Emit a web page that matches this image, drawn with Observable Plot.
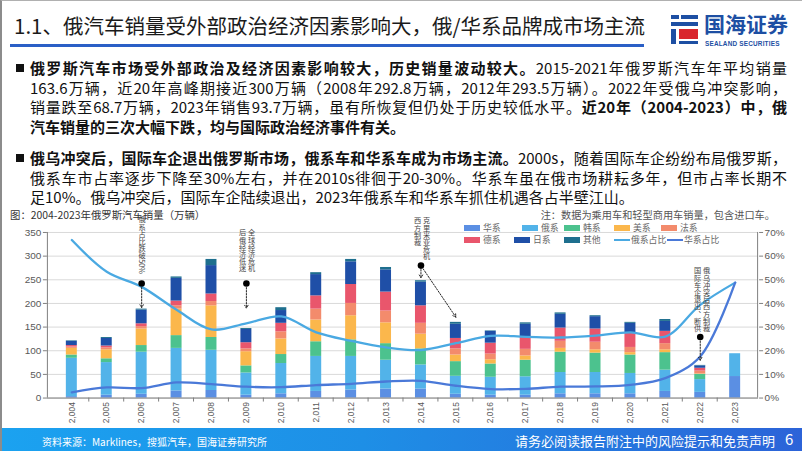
<!DOCTYPE html>
<html><head><meta charset="utf-8">
<script src="https://cdn.jsdelivr.net/npm/d3@7"></script>
<script src="https://cdn.jsdelivr.net/npm/@observablehq/plot@0.6"></script>
<style>
body{margin:0;background:#fff;}
#slide{position:relative;width:802px;height:451px;overflow:hidden;background:#fff;font-family:"Noto Sans CJK SC","Noto Sans",sans-serif;color:#111;box-sizing:border-box;border-left:2px solid #8c8c8c;border-top:1px solid #b0b0b0;}
.abs{position:absolute;}
#title{left:12px;top:8px;font-size:20.5px;line-height:32px;color:#1a1a1a;white-space:nowrap;}
#uline{left:8px;top:43px;width:634px;height:3px;background:#2a5fc6;}
.para{position:absolute;left:28px;width:757px;font-size:15px;line-height:19.7px;}
.ln{white-space:nowrap;}
.j{text-align:justify;text-align-last:justify;white-space:normal;}
.bullet{position:absolute;left:14px;width:8px;height:8px;background:#111;}
#cap{left:8px;top:206px;font-size:10.4px;color:#333;white-space:nowrap;}
#note{right:27px;top:206px;font-size:10.2px;color:#555;white-space:nowrap;}
#chart{left:0;top:221px;}
.lg{position:absolute;font-size:8.8px;color:#666;white-space:nowrap;line-height:11px;}
.sw{position:absolute;width:16px;height:6px;}
.lsw{position:absolute;width:16px;height:2px;}
.anno{position:absolute;writing-mode:vertical-rl;font-size:7.2px;line-height:9px;color:#444;white-space:nowrap;}
#footer{left:0;top:427px;width:802px;height:24px;background:linear-gradient(to right,#1ba2f0 0%,#1e8fe6 45%,#2c63d8 100%);}
#src{left:40px;top:433px;font-size:10px;color:#fff;white-space:nowrap;}
#disc{left:513px;top:430px;font-size:13px;color:#fff;white-space:nowrap;}
#pg{left:783px;top:429px;font-size:15px;color:#fff;line-height:18px;}
#logoTxt{left:702px;top:11px;font-size:21px;font-weight:700;color:#1d4fa3;white-space:nowrap;line-height:22px;}
#logoSub{left:703px;top:39px;font-size:6.4px;line-height:7px;font-weight:700;color:#1d4fa3;white-space:nowrap;font-family:"Liberation Sans",Arial,sans-serif;letter-spacing:0.2px;}
</style></head><body>
<div id="slide">
  <div id="title" class="abs">1.1、俄汽车销量受外部政治经济因素影响大，俄/华系品牌成市场主流</div>
  <div id="uline" class="abs"></div>
  <!-- logo -->
  <div class="abs" style="left:669px;top:14px;width:8px;height:4px;background:#1d4fa3"></div>
  <div class="abs" style="left:679px;top:14px;width:17px;height:4px;background:#1d4fa3"></div>
  <div class="abs" style="left:669px;top:21px;width:27px;height:4px;background:#1d4fa3"></div>
  <div class="abs" style="left:669px;top:28px;width:5px;height:15px;background:#1d4fa3"></div>
  <div class="abs" style="left:677px;top:28px;width:19px;height:10px;background:#d9262e"></div>
  <div class="abs" style="left:677px;top:40px;width:19px;height:3px;background:#1d4fa3"></div>
  <div id="logoTxt" class="abs">国海证券</div>
  <div id="logoSub" class="abs">SEALAND SECURITIES</div>

  <div class="bullet" style="top:63px"></div>
  <div class="para" style="top:57px">
    <div class="ln j"><b>俄罗斯汽车市场受外部政治及经济因素影响较大，历史销量波动较大。</b>2015-2021年俄罗斯汽车年平均销量</div>
    <div class="ln j">163.6万辆，近20年高峰期接近300万辆（2008年292.8万辆，2012年293.5万辆）。2022年受俄乌冲突影响，</div>
    <div class="ln j">销量跌至68.7万辆，2023年销售93.7万辆，虽有所恢复但仍处于历史较低水平。<b>近20年（2004-2023）中，俄</b></div>
    <div class="ln"><b>汽车销量的三次大幅下跌，均与国际政治经济事件有关。</b></div>
  </div>
  <div class="bullet" style="top:153px"></div>
  <div class="para" style="top:147px">
    <div class="ln j"><b>俄乌冲突后，国际车企退出俄罗斯市场，俄系车和华系车成为市场主流。</b>2000s，随着国际车企纷纷布局俄罗斯，</div>
    <div class="ln j">俄系车市占率逐步下降至30%左右，并在2010s徘徊于20-30%。华系车虽在俄市场耕耘多年，但市占率长期不</div>
    <div class="ln">足10%。俄乌冲突后，国际车企陆续退出，2023年俄系车和华系车抓住机遇各占半壁江山。</div>
  </div>

  <div id="cap" class="abs">图：2004-2023年俄罗斯汽车销量（万辆）</div>
  <div id="note" class="abs">注：数据为乘用车和轻型商用车销量，包含进口车。</div>

  <div id="chart" class="abs"></div>
  <div id="legend"></div>
  <div id="annos"></div>

  <div id="footer" class="abs"></div>
  <div id="src" class="abs">资料来源：Marklines，搜狐汽车，国海证券研究所</div>
  <div id="disc" class="abs">请务必阅读报告附注中的风险提示和免责声明</div>
  <div id="pg" class="abs">6</div>
</div>
<script>
// ---------- data ----------
const years = [2004,2005,2006,2007,2008,2009,2010,2011,2012,2013,2014,2015,2016,2017,2018,2019,2020,2021,2022,2023];
const seriesNames = ["华系","俄系","韩系","美系","法系","德系","日系","其他"];
const seriesColors = ["#5b8fe3","#52b3e9","#4cc28e","#fbb74c","#f38b6c","#e9566c","#1f4fa7","#1e6f8e"];
const huaxi = [3,6,8,15,16,6,9,14,17,19,19,8,6,6,9,9,9,14,12,45.5];
const eluoxi = [81,69,89,90,85,47,64,74,71,61,51,38,38,39,45,45,43,45,27,48.2];
const hanxi = [7,8,14,27,27,15,19,31,35,35,34,31,28,35,43,41,39,37,11,0];
const meixi = [14,19,35,56,67,30,33,46,51,44,31,14,9,9,8,7,5,6,1,0];
const faxi = [3,4,5,7,9,6,15,23,26,25,23,13,12,14,15,16,11,13,6,0];
const dexi = [3,4,6,10,16,13,18,28,40,40,37,22,23,26,28,28,31,26,6,0];
const rixi = [9,16,29,48,60,28,27,45,48,47,50,30,25,27,29,26,20,21,5,0];
const qita = [1,2,2,3,13,2,6,4,5,5,3,4,1,3,3,2,2,4,1,0];
// shares (%)
const ruShare = [66.8,53.4,47.0,37.3,29.0,31.6,34.5,27.8,24.2,21.4,20.3,23.2,26.3,25.9,25.6,26.4,27.8,26.0,39.4,48.8];
const cnShare = [2.4,4.5,4.2,6.6,5.9,4.8,4.6,5.5,6.0,7.0,7.3,5.2,3.8,3.9,4.8,4.9,5.6,8.4,17.6,48.8];
const lineNames = ["俄系占比","华系占比"];
const lineColors = ["#4aa9e2","#4a79d8"];
const yTicks = [0,50,100,150,200,250,300,350];
const pctPerUnit = 70/350;
// annotations (levels in 万辆 units of left axis)
const annoDots = [{year:2006,level:242},{year:2009,level:242},{year:2014,level:280},{year:2022,level:129}];
const annoArrows = [
  {from:2006,y1:242,to:2006,y2:191},
  {from:2009,y1:242,to:2009,y2:190},
  {from:2014,y1:280,to:2014,y2:254},
  {from:2014,y1:280,to:2015,y2:171},
  {from:2022,y1:129,to:2022,y2:80}
];
const annoTexts = [
  {year:2006,top:384,cols:["俄系占比跌破50%"]},
  {year:2009,top:357,cols:["全球经济危机","后俄经济低迷"]},
  {year:2014,top:382,cols:["克里米亚危机","西方制裁"]},
  {year:2022,top:276,cols:["俄乌冲突后西方制裁","国际车企退出、断供"]}
];

// ---------- build ----------
const seriesValues = [huaxi,eluoxi,hanxi,meixi,faxi,dexi,rixi,qita];
const rows = seriesNames.flatMap((s,i)=>years.map((y,j)=>({year:y,series:s,value:seriesValues[i][j]})));

const W=802,H=205,ML=45,MR=44,MT=10,MB=29;
const plot = Plot.plot({
  width:W,height:H,marginLeft:ML,marginRight:MR,marginTop:MT,marginBottom:MB,
  style:{fontFamily:"'Liberation Sans',Arial,sans-serif",fontSize:"10px",color:"#595959",background:"transparent",overflow:"visible"},
  x:{type:"band",domain:years,paddingInner:0.69,paddingOuter:0.345,label:null},
  y:{domain:[0,350],label:null},
  color:{domain:seriesNames,range:seriesColors},
  marks:[
    Plot.gridY(yTicks,{stroke:"#d9d9d9",strokeOpacity:1}),
    Plot.barY(rows,{x:"year",y:"value",fill:"series"}),
    Plot.line(years,{x:d=>d,y:(d,i)=>ruShare[i]/pctPerUnit,stroke:lineColors[0],strokeWidth:2.3,curve:"catmull-rom"}),
    Plot.line(years,{x:d=>d,y:(d,i)=>cnShare[i]/pctPerUnit,stroke:lineColors[1],strokeWidth:2.3,curve:"catmull-rom"}),
    Plot.axisY({anchor:"left",ticks:yTicks,tickSize:4,tickPadding:2,label:null,fill:"#595959",stroke:"#7f7f7f"}),
    Plot.axisY({anchor:"right",ticks:yTicks,tickSize:4,tickPadding:2,label:null,tickFormat:d=>Math.round(d*pctPerUnit)+"%",fill:"#595959",stroke:"#7f7f7f"}),
    Plot.axisX({tickSize:0,tickRotate:-90,tickPadding:4,fontSize:8.5,label:null,fill:"#595959"}),
    Plot.arrow(annoArrows,{x1:"from",y1:"y1",x2:"to",y2:"y2",stroke:"#222",strokeWidth:1,strokeDasharray:"1.5,1.5",headLength:5,insetStart:4,bend:0}),
    Plot.dot(annoDots,{x:"year",y:"level",r:3.3,fill:"#000"})
  ]
});
document.getElementById("chart").appendChild(plot);

const xs = plot.scale("x"), ys = plot.scale("y");
const svg = d3.select(plot);
const y0 = ys.apply(0), yTop = ys.apply(350);
const xL = ML, xR = W-MR;
const g = svg.append("g").attr("stroke","#7f7f7f").attr("stroke-width",1);
g.append("line").attr("x1",xL+0.5).attr("x2",xL+0.5).attr("y1",yTop).attr("y2",y0);
g.append("line").attr("x1",xR-0.5).attr("x2",xR-0.5).attr("y1",yTop).attr("y2",y0);
g.append("line").attr("x1",xL).attr("x2",xR).attr("y1",y0+0.5).attr("y2",y0+0.5);
const step = xs.step;
years.forEach((yr,i)=>{
  const c = xs.apply(yr)+xs.bandwidth/2;
  if(i>0) g.append("line").attr("x1",c-step/2).attr("x2",c-step/2).attr("y1",y0).attr("y2",y0+4);
});

// legend (HTML)
const chartTop = 221;
const lgItems = [
  {t:"华系",x:462,y:0},{t:"俄系",x:520,y:0},{t:"韩系",x:562,y:0},{t:"美系",x:612,y:0},{t:"法系",x:659,y:0},
  {t:"德系",x:462,y:1},{t:"日系",x:512,y:1},{t:"其他",x:562,y:1}
];
const legend = document.getElementById("legend");
let html = "";
const rowY = [221,233];
lgItems.forEach(it=>{
  const col = seriesColors[seriesNames.indexOf(it.t)];
  html += `<div class="sw" style="left:${it.x}px;top:${rowY[it.y]+2.5}px;background:${col}"></div>`;
  html += `<div class="lg" style="left:${it.x+19}px;top:${rowY[it.y]}px">${it.t}</div>`;
});
const lnX = [612,665];
lineNames.forEach((n,i)=>{
  html += `<div class="lsw" style="left:${lnX[i]}px;top:${rowY[1]+5}px;background:${lineColors[i]}"></div>`;
  html += `<div class="lg" style="left:${lnX[i]+17}px;top:${rowY[1]}px">${n}</div>`;
});
legend.innerHTML = html;

// annotation texts
const annos = document.getElementById("annos");
let ah = "";
annoTexts.forEach(a=>{
  const cx = xs.apply(a.year)+xs.bandwidth/2;
  const top = chartTop + ys.apply(a.top);
  ah += `<div class="anno" style="left:${cx}px;top:${top}px;transform:translateX(-50%)">${a.cols.join("<br>")}</div>`;
});
annos.innerHTML = ah;
</script>
</body></html>
